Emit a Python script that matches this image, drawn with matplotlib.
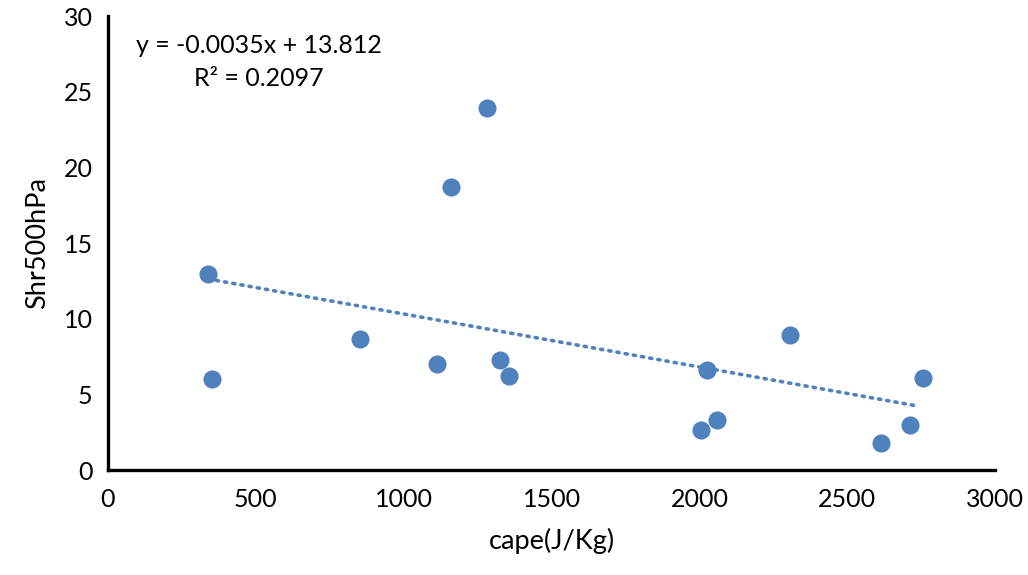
import matplotlib
matplotlib.use("Agg")
import matplotlib.pyplot as plt
import numpy as np

cape = [339, 352, 854, 1112, 1159, 1281, 1325, 1356, 2007, 2027, 2058, 2308, 2614, 2712, 2756]
shr = [12.95, 6.01, 8.66, 7.0, 18.7, 23.9, 7.27, 6.2, 2.64, 6.6, 3.3, 8.92, 1.78, 2.97, 6.08]
slope = -0.0035
intercept = 13.812
r2 = 0.2097
xticks = [0, 500, 1000, 1500, 2000, 2500, 3000]
yticks = [0, 5, 10, 15, 20, 25, 30]

plt.rcParams['font.family'] = ['Lato', 'DejaVu Sans']

fig = plt.figure(figsize=(10.28, 5.75), dpi=100)
ax = fig.add_axes([0.105, 0.1826, 0.863, 0.7894])
color = '#4F81BD'

ax.scatter(cape, shr, s=170, color=color, zorder=3, linewidths=0)
xt = np.array([min(cape), 2728])
ax.plot(xt, slope * xt + intercept, linestyle=(0, (0.6, 1.7)), color=color, lw=2.6,
        dash_capstyle='round', zorder=2)

ax.set_xlim(0, 3000)
ax.set_ylim(0, 30)
ax.set_xticks(xticks)
ax.set_yticks(yticks)
ax.tick_params(length=0, labelsize=18, pad=13)
ax.tick_params(axis='y', pad=11)
for s in ['top', 'right']:
    ax.spines[s].set_visible(False)
for s in ['left', 'bottom']:
    ax.spines[s].set_linewidth(2.4)
    ax.spines[s].set_color('black')

ax.set_xlabel('cape(J/Kg)', fontsize=19.5, labelpad=12)
ax.set_ylabel('Shr500hPa', fontsize=19.5, labelpad=10)

ax.text(0.17, 0.935, f'y = {slope}x + {intercept}', transform=ax.transAxes,
        ha='center', va='center', fontsize=18)
ax.text(0.17, 0.862, f'R² = {r2}', transform=ax.transAxes,
        ha='center', va='center', fontsize=18)

fig.savefig('out.png', dpi=100)
